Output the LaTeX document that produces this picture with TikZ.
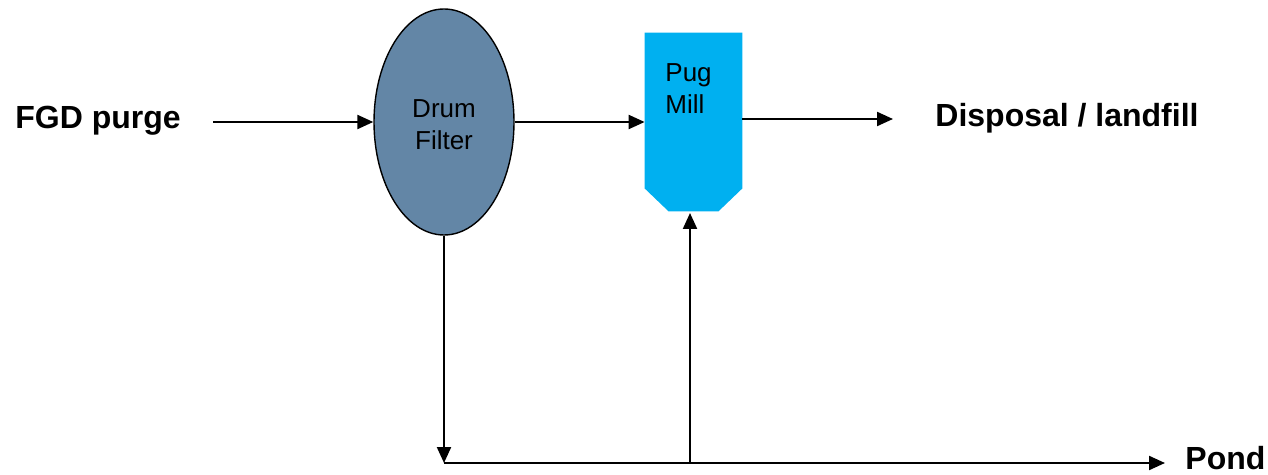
\documentclass[tikz,border=0pt]{standalone}
\usepackage{fontspec}
\setmainfont{Liberation Sans}
\usetikzlibrary{shapes.geometric,arrows.meta}
\definecolor{drumfill}{RGB}{99,134,166}
\definecolor{pugfill}{RGB}{0,176,240}
\tikzset{
  flow/.style={line width=1.1pt,-{Triangle[length=8pt,width=7pt]}},
  biglabel/.style={font=\fontsize{16}{19}\selectfont\bfseries,inner sep=0pt},
  unittext/.style={font=\fontsize{13}{16}\selectfont,align=center,inner sep=0pt}
}
\begin{document}
\begin{tikzpicture}[x=0.5pt,y=-0.5pt]
\useasboundingbox (0,0) rectangle (1268,475);
% nodes
\node[ellipse,draw,line width=0.7pt,fill=drumfill,minimum width=70pt,minimum height=113pt,inner sep=0pt] (drum) at (444,122) {};
\node[unittext] (drumtxt) at (444,125) {Drum\\Filter};
\node[minimum width=48.5pt,minimum height=89pt,inner sep=0pt] (pug) at (693.5,122) {};
\fill[pugfill] (pug.north west) -- (pug.north east) -- ([yshift=11.5pt]pug.south east) -- ([xshift=-12pt]pug.south east) -- ([xshift=12pt]pug.south west) -- ([yshift=11.5pt]pug.south west) -- cycle;
\node[unittext,align=left,anchor=north west] (pugtxt) at (665,63) {Pug\\Mill};
\node[biglabel,anchor=west] (fgd) at (15,121) {FGD purge};
\node[biglabel,anchor=west] (disp) at (935,118) {Disposal / landfill};
\node[biglabel,anchor=west] (pond) at (1185,458) {Pond};
\coordinate (corner) at (444,463);
\coordinate (junction) at (690,463);
% connectors
\draw[flow] (213,122) -- (drum.west);
\draw[flow] (drum.east) -- (pug.west);
\draw[flow] (pug.east |- 0,119) -- (893,119);
\draw[flow] (drum.south) -- (corner);
\draw[flow] (corner) -- (1165,463);
\draw[flow] (junction) -- (690,213);
\end{tikzpicture}
\end{document}
